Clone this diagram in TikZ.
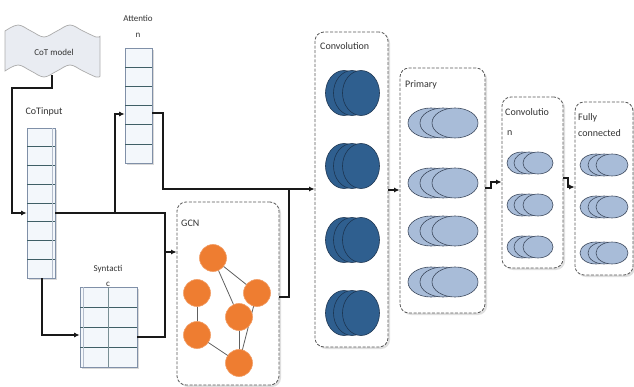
\documentclass[tikz,border=0pt]{standalone}
\usepackage{fontspec}
\setmainfont{Carlito}
\usetikzlibrary{arrows.meta}
\definecolor{tblfill}{HTML}{F3F7FB}
\definecolor{tbldraw}{HTML}{8090A8}
\definecolor{rowcol}{HTML}{3F5F66}
\definecolor{darkblue}{HTML}{2F5F8F}
\definecolor{darkedge}{HTML}{1C3450}
\definecolor{lightblue}{HTML}{A8BCD8}
\definecolor{lightedge}{HTML}{404C60}
\definecolor{gorange}{HTML}{EE7D31}
\definecolor{cotfill}{HTML}{E9ECF2}
\begin{document}
\begin{tikzpicture}[x=1pt,y=-1pt,
  tbl/.style={draw=tbldraw, fill=tblfill, line width=0.7pt, inner sep=0, rectangle},
  rowline/.style={draw=rowcol, line width=0.6pt},
  panel/.style={draw=black!65, dash pattern=on 3pt off 1.6pt, rounded corners=9pt, line width=0.8pt, fill=white, inner sep=0, rectangle},
  conn/.style={draw=black!90, line width=1.2pt},
  arr/.style={conn, -{Latex[length=5.5pt,width=5pt]}},
  gnode/.style={circle, fill=gorange, draw=gorange!75!white, line width=0.6pt, minimum size=27pt, inner sep=0},
  gedge/.style={draw=gray!75!black, line width=0.8pt},
  lbl/.style={font=\fontsize{10}{12}\selectfont, text=black!80, inner sep=0},
  slbl/.style={font=\fontsize{9}{11}\selectfont, text=black!80, inner sep=0},
  dkell/.style={fill=darkblue, draw=darkedge, line width=0.6pt},
  ltell/.style={fill=lightblue, draw=lightedge, line width=0.6pt},
  shadowbox/.style={fill=gray!25, rounded corners=9pt}
]
\useasboundingbox (0,0) rectangle (634,387);

% ---------- CoT model (tape) ----------
\draw[fill=cotfill, draw=gray!65, line width=0.7pt]
  plot[smooth, tension=0.6] coordinates {(5,31) (18,25) (31,31) (44,37) (57,31) (70,25) (83,31) (96,37) (100,36.3)}
  -- plot[smooth, tension=0.6] coordinates {(100,76.3) (96,77) (83,71) (70,65) (57,71) (44,77) (31,71) (18,65) (5,71)} -- cycle;
\node[slbl] (cot) at (54,52) {CoT model};
\coordinate (cotb) at (52,75);

% ---------- CoTinput ----------
\node[lbl] (cotinlbl) at (44,112) {CoTinput};
\fill[gray!30] (29,130) rectangle (57,280);
\node[tbl, minimum width=28pt, minimum height=150pt] (cotin) at (41,203) {};
\foreach \k in {1,...,7} \draw[rowline] (27,{128+\k*18.75}) -- (55,{128+\k*18.75});
\draw[draw=tbldraw!60, line width=0.4pt] (52,128) -- (52,278);

% ---------- Attention ----------
\node[slbl] (attlbl1) at (138,18) {Attentio};
\node[slbl] (attlbl2) at (138,35) {n};
\fill[gray!30] (127,50) rectangle (154,165);
\node[tbl, minimum width=27pt, minimum height=115pt] (att) at (138.5,105.5) {};
\foreach \k in {1,...,5} \draw[rowline] (125,{48+\k*19.17}) -- (152,{48+\k*19.17});

% ---------- Syntactic ----------
\node[slbl] (synlbl1) at (108,269) {Syntacti};
\fill[gray!30] (82,289) rectangle (139,369);
\node[tbl, minimum width=57pt, minimum height=80pt] (syn) at (108.5,327) {};
\foreach \k in {1,...,3} \draw[rowline] (80,{287+\k*20}) -- (137,{287+\k*20});
\draw[rowline, draw=rowcol!70] (108,287) -- (108,367);
\draw[draw=tbldraw!60, line width=0.4pt] (83,287) -- (83,367);
\node[slbl] (synlbl2) at (108,284) {c};

% ---------- GCN ----------
\fill[shadowbox] (179,204) rectangle (281,387);
\node[panel, minimum width=102pt, minimum height=183pt] (gcn) at (228,293.5) {};
\node[lbl, anchor=west] (gcnlbl) at (181,223) {GCN};
\draw[gedge] (213,258) -- (257,293);
\draw[gedge] (213,258) -- (239,317);
\draw[gedge] (197,293) -- (197,335);
\draw[gedge] (239,317) -- (239,363);
\draw[gedge] (197,335) -- (239,363);
\draw[gedge] (257,293) -- (239,363);
\node[gnode] (n1) at (213,258) {};
\node[gnode] (n2) at (197,293) {};
\node[gnode] (n3) at (257,293) {};
\node[gnode] (n4) at (239,317) {};
\node[gnode] (n5) at (197,335) {};
\node[gnode] (n6) at (239,363) {};

% ---------- Convolution 1 ----------
\fill[shadowbox] (317,34) rectangle (390,349);
\node[panel, minimum width=73pt, minimum height=315pt] (conv1) at (351.5,189.5) {};
\node[lbl, anchor=west] (conv1lbl) at (320,46) {Convolution};
\foreach \cy in {93,166,240,313} {
  \draw[dkell] (344,\cy) ellipse [x radius=18.5pt, y radius=22.5pt];
  \draw[dkell] (352,\cy) ellipse [x radius=18.5pt, y radius=22.5pt];
  \draw[dkell] (361,\cy) ellipse [x radius=18.5pt, y radius=22.5pt];
}

% ---------- Primary ----------
\fill[shadowbox] (402,70) rectangle (487,315);
\node[panel, minimum width=85pt, minimum height=245pt] (prim) at (442.5,190.5) {};
\node[lbl, anchor=west] (primlbl) at (405,85) {Primary};
\foreach \cy in {123,183,231,282} {
  \draw[ltell] (431,\cy) ellipse [x radius=23pt, y radius=15pt];
  \draw[ltell] (443,\cy) ellipse [x radius=23pt, y radius=15pt];
  \draw[ltell] (455,\cy) ellipse [x radius=23pt, y radius=15pt];
}

% ---------- Convolution 2 ----------
\fill[shadowbox] (504,99) rectangle (565,270);
\node[panel, minimum width=61pt, minimum height=171pt] (conv2) at (532.5,182.5) {};
\node[lbl, anchor=west] (conv2lbl1) at (505,112) {Convolutio};
\node[lbl, anchor=west] (conv2lbl2) at (507,133) {n};
\foreach \cy in {163,205,247} {
  \draw[ltell] (522,\cy) ellipse [x radius=15pt, y radius=11pt];
  \draw[ltell] (529,\cy) ellipse [x radius=15pt, y radius=11pt];
  \draw[ltell] (538,\cy) ellipse [x radius=15pt, y radius=11pt];
}

% ---------- Fully connected ----------
\fill[shadowbox] (577,104) rectangle (635,277);
\node[panel, minimum width=58pt, minimum height=173pt] (fc) at (604,188.5) {};
\node[lbl, anchor=west] (fclbl1) at (578,118) {Fully};
\node[lbl, anchor=west] (fclbl2) at (578,133) {connected};
\foreach \cy in {165,207,253} {
  \draw[ltell] (596,\cy) ellipse [x radius=16pt, y radius=11pt];
  \draw[ltell] (604,\cy) ellipse [x radius=16pt, y radius=11pt];
  \draw[ltell] (612,\cy) ellipse [x radius=16pt, y radius=11pt];
}

% ---------- Connectors ----------
\coordinate (a1) at (12,213);
\draw[arr] (cotb) -- (52,88) -| (a1) -- (a1 -| cotin.west);

\coordinate (m1) at (165,213);
\coordinate (g1) at (165,252);
\draw[arr] (cotin.east |- m1) -- (m1) -- (g1) -- (g1 -| gcn.west);

\coordinate (b1) at (115,213);
\coordinate (b2) at (115,114);
\draw[arr] (b1) -- (b2) -- (b2 -| att.west);

\coordinate (s1) at (42,335);
\draw[arr] (s1 |- cotin.south) -- (s1) -- (s1 -| syn.west);

\coordinate (s2) at (165,337);
\draw[conn] (s2 -| syn.east) -- (s2) -- (g1);

\coordinate (t1) at (163,113);
\coordinate (t2) at (163,189);
\draw[arr] (t1 -| att.east) -- (t1) -- (t2) -- (t2 -| conv1.west);

\coordinate (u1) at (289,297);
\draw[conn] (u1 -| gcn.east) -- (u1) -- (289,189);

\coordinate (v1) at (394,190);
\draw[arr] (v1 -| conv1.east) -- (v1 -| prim.west);

\coordinate (w1) at (491,188);
\coordinate (w2) at (491,182);
\draw[arr] (w1 -| prim.east) -- (w1) -- (w2) -- (w2 -| conv2.west);

\coordinate (z1) at (568,178);
\coordinate (z2) at (568,187);
\draw[arr] (z1 -| conv2.east) -- (z1) -- (z2) -- (z2 -| fc.west);
\end{tikzpicture}
\end{document}
